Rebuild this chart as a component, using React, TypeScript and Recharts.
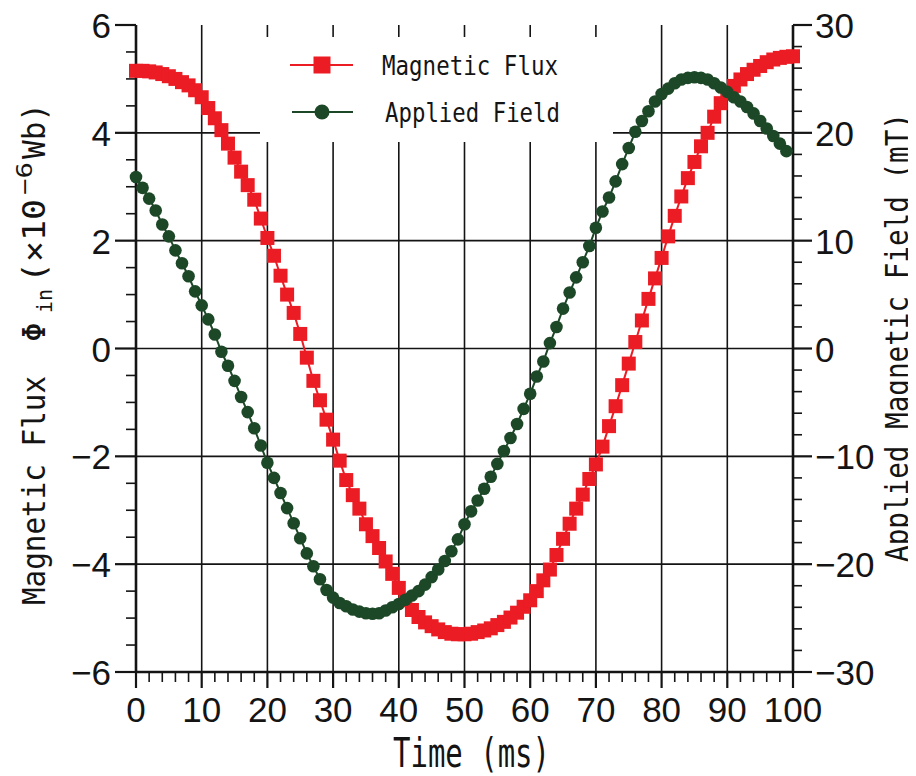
import React from 'react';
import { ComposedChart, Line, XAxis, YAxis, ReferenceLine, Legend } from 'recharts';

const timeMs = [
  0, 1, 2, 3, 4, 5, 6, 7, 8, 9, 10, 11, 12, 13, 14, 15, 16, 17, 18, 19,
  20, 21, 22, 23, 24, 25, 26, 27, 28, 29, 30, 31, 32, 33, 34, 35, 36, 37, 38, 39,
  40, 41, 42, 43, 44, 45, 46, 47, 48, 49, 50, 51, 52, 53, 54, 55, 56, 57, 58, 59,
  60, 61, 62, 63, 64, 65, 66, 67, 68, 69, 70, 71, 72, 73, 74, 75, 76, 77, 78, 79,
  80, 81, 82, 83, 84, 85, 86, 87, 88, 89, 90, 91, 92, 93, 94, 95, 96, 97, 98, 99, 100,
];

// Magnetic flux (x10^-6 Wb), left axis
const magneticFlux = [
  5.15, 5.15, 5.14, 5.12, 5.09, 5.05, 5.0, 4.94, 4.88, 4.79,
  4.66, 4.46, 4.27, 4.05, 3.8, 3.54, 3.28, 3.03, 2.76, 2.41,
  2.05, 1.72, 1.35, 1.0, 0.66, 0.27, -0.17, -0.6, -0.96, -1.32,
  -1.69, -2.08, -2.44, -2.72, -2.97, -3.26, -3.48, -3.7, -3.95, -4.18,
  -4.44, -4.67, -4.85, -4.98, -5.08, -5.15, -5.21, -5.26, -5.29, -5.3,
  -5.3, -5.29, -5.26, -5.23, -5.19, -5.13, -5.07, -4.99, -4.9, -4.79,
  -4.67, -4.5, -4.3, -4.1, -3.83, -3.53, -3.25, -2.97, -2.71, -2.42,
  -2.15, -1.82, -1.44, -1.07, -0.68, -0.28, 0.12, 0.52, 0.92, 1.3,
  1.68, 2.08, 2.46, 2.82, 3.16, 3.46, 3.75, 4.0, 4.3, 4.55,
  4.73, 4.87, 4.99, 5.09, 5.17, 5.24, 5.31, 5.36, 5.39, 5.41, 5.42,
];

// Applied magnetic field (mT), right axis
const appliedField = [
  15.9, 14.9, 13.9, 12.8, 11.5, 10.4, 9.1, 7.9, 6.7, 5.3,
  4.0, 2.7, 1.3, -0.3, -1.6, -3.0, -4.5, -5.9, -7.4, -9.0,
  -10.6, -12.0, -13.4, -14.8, -16.2, -17.6, -19.0, -20.2, -21.4, -22.4,
  -23.1, -23.6, -23.9, -24.2, -24.4, -24.55, -24.6, -24.55, -24.3, -24.0,
  -23.7, -23.3, -22.9, -22.5, -21.9, -21.2, -20.5, -19.7, -18.8, -17.7,
  -16.3, -15.1, -14.1, -13.0, -11.9, -10.7, -9.5, -8.3, -7.0, -5.6,
  -4.2, -2.6, -1.2, 0.5, 2.0, 3.7, 5.2, 6.6, 8.0, 9.5,
  11.2, 12.7, 14.0, 15.5, 17.1, 18.6, 20.1, 21.1, 22.0, 22.9,
  23.6, 24.1, 24.6, 24.95, 25.1, 25.15, 25.1, 24.95, 24.6, 24.2,
  23.8, 23.3, 22.9, 22.4, 21.8, 21.1, 20.4, 19.7, 19.0, 18.3,
];

const seriesNames = ['Magnetic Flux', 'Applied Field'];

const xMajorTicks = [0, 10, 20, 30, 40, 50, 60, 70, 80, 90, 100];
const xMinorTicks = [
  0, 2, 4, 6, 8, 10, 12, 14, 16, 18, 20, 22, 24, 26, 28, 30, 32, 34, 36, 38, 40,
  42, 44, 46, 48, 50, 52, 54, 56, 58, 60, 62, 64, 66, 68, 70, 72, 74, 76, 78, 80,
  82, 84, 86, 88, 90, 92, 94, 96, 98, 100,
];
const leftTicks = [
  -6, -5.5, -5, -4.5, -4, -3.5, -3, -2.5, -2, -1.5, -1, -0.5, 0,
  0.5, 1, 1.5, 2, 2.5, 3, 3.5, 4, 4.5, 5, 5.5, 6,
];
const rightTicks = [
  -30, -28, -26, -24, -22, -20, -18, -16, -14, -12, -10, -8, -6, -4, -2, 0,
  2, 4, 6, 8, 10, 12, 14, 16, 18, 20, 22, 24, 26, 28, 30,
];
const gridX = [10, 20, 30, 40, 50, 60, 70, 80, 90];
const gridY = [-4, -2, 0, 2, 4];

const rows = timeMs.map((t, i) => ({
  t,
  flux: i < magneticFlux.length ? magneticFlux[i] : null,
  field: i < appliedField.length ? appliedField[i] : null,
}));

const RED = '#ec1c24';
const GREEN = '#1d4828';
const INK = '#141414';
const NUM_FONT = '"Liberation Sans", Arial, sans-serif';
const MONO_FONT = '"DejaVu Sans Mono", "Liberation Mono", monospace';

const fmt = (v: number) => (v < 0 ? '\u2212' + Math.abs(v) : String(v));
const isMult = (v: number, m: number) => Math.abs(v / m - Math.round(v / m)) < 1e-9;

const BottomTick = (props: any) => {
  const { x, y, payload } = props;
  const v = payload.value;
  const major = isMult(v, 10);
  return (
    <g>
      <line x1={x} x2={x} y1={y} y2={y + (major ? 16 : 10)} stroke={INK} strokeWidth={major ? 2.2 : 1.6} />
      {major && (
        <text x={x} y={y + 50} textAnchor="middle" fontFamily={NUM_FONT} fontSize={35} fill={INK}>
          {fmt(v)}
        </text>
      )}
    </g>
  );
};

const TopTick = (props: any) => {
  const { x, y } = props;
  return <line x1={x} x2={x} y1={y} y2={y + 10} stroke={INK} strokeWidth={2} />;
};

const LeftTick = (props: any) => {
  const { x, y, payload } = props;
  const v = payload.value;
  const major = isMult(v, 2);
  return (
    <g>
      <line x1={x - (major ? 21 : 10)} x2={x} y1={y} y2={y} stroke={INK} strokeWidth={major ? 2.2 : 1.6} />
      {major && (
        <text x={x - 25} y={y + 13} textAnchor="end" fontFamily={NUM_FONT} fontSize={35} fill={INK}>
          {fmt(v)}
        </text>
      )}
    </g>
  );
};

const RightTick = (props: any) => {
  const { x, y, payload } = props;
  const v = payload.value;
  const major = isMult(v, 10);
  return (
    <g>
      <line x1={x} x2={x + (major ? 19 : 9)} y1={y} y2={y} stroke={INK} strokeWidth={major ? 2.2 : 1.6} />
      {major && (
        <text x={x + 22} y={y + 13} textAnchor="start" fontFamily={NUM_FONT} fontSize={35} fill={INK}>
          {fmt(v)}
        </text>
      )}
    </g>
  );
};

const XTitle = () => (
  <text
    x={393}
    y={767}
    fontFamily={MONO_FONT}
    fontSize={40}
    fill={INK}
    textLength={157}
    lengthAdjust="spacingAndGlyphs"
  >
    Time (ms)
  </text>
);

const LeftTitle = () => (
  <g transform="translate(45,605) rotate(-90)" fontFamily={MONO_FONT} fill={INK}>
    <text x={0} y={0} fontSize={32} textLength={229} lengthAdjust="spacingAndGlyphs">
      Magnetic Flux
    </text>
    <text x={273} y={0} fontSize={32} textAnchor="middle">
      Φ
    </text>
    <text x={292} y={7} fontSize={22} textLength={24} lengthAdjust="spacingAndGlyphs">
      in
    </text>
    <text x={322} y={0} fontSize={32} textLength={84} lengthAdjust="spacingAndGlyphs">
      (×10
    </text>
    <text x={410} y={-13} fontSize={22} textLength={33} lengthAdjust="spacingAndGlyphs">
      −6
    </text>
    <text x={446} y={0} fontSize={32} textLength={56} lengthAdjust="spacingAndGlyphs">
      Wb)
    </text>
  </g>
);

const RightTitle = () => (
  <g transform="translate(908,562) rotate(-90)" fontFamily={MONO_FONT} fill={INK}>
    <text x={0} y={0} fontSize={32} textLength={449} lengthAdjust="spacingAndGlyphs">
      Applied Magnetic Field (mT)
    </text>
  </g>
);

const LegendBox = () => (
  <div style={{ width: 353, height: 105, background: '#ffffff' }}>
    <svg width={353} height={105}>
      <line x1={30} x2={93} y1={28} y2={28} stroke={RED} strokeWidth={2} />
      <rect x={53.5} y={19.5} width={17} height={17} fill={RED} />
      <text x={122} y={38} fontFamily={MONO_FONT} fontSize={27} fill={INK} textLength={176} lengthAdjust="spacingAndGlyphs">
        {seriesNames[0]}
      </text>
      <line x1={32} x2={93} y1={75} y2={75} stroke={GREEN} strokeWidth={2} />
      <circle cx={62} cy={75} r={7.5} fill={GREEN} />
      <text x={125} y={85} fontFamily={MONO_FONT} fontSize={27} fill={INK} textLength={175} lengthAdjust="spacingAndGlyphs">
        {seriesNames[1]}
      </text>
    </svg>
  </div>
);

const SquareDot = (props: any) => {
  const { cx, cy, index } = props;
  if (cx == null || cy == null || Number.isNaN(cy)) return <g key={'s' + index} />;
  return <rect key={'s' + index} x={cx - 7} y={cy - 7} width={14} height={14} fill={RED} />;
};

const CircleDot = (props: any) => {
  const { cx, cy, index } = props;
  if (cx == null || cy == null || Number.isNaN(cy)) return <g key={'c' + index} />;
  return <circle key={'c' + index} cx={cx} cy={cy} r={6.3} fill={GREEN} />;
};

export default function App() {
  return (
    <div style={{ width: 916, height: 776, margin: '-8px 0 0 -8px', background: '#fff' }}>
      <ComposedChart
        width={916}
        height={776}
        data={rows}
        margin={{ top: 25, right: 63, bottom: 74, left: 76 }}
      >
        <XAxis
          xAxisId="bottom"
          dataKey="t"
          type="number"
          domain={[0, 100]}
          ticks={xMinorTicks}
          interval={0}
          height={30}
          tickSize={0}
          tickMargin={0}
          tick={<BottomTick />}
          axisLine={{ stroke: INK, strokeWidth: 2.6 }}
          tickLine={false}
          label={<XTitle />}
        />
        <XAxis
          xAxisId="top"
          orientation="top"
          dataKey="t"
          type="number"
          domain={[0, 100]}
          ticks={xMajorTicks}
          interval={0}
          height={0}
          tickSize={0}
          tickMargin={0}
          tick={<TopTick />}
          axisLine={{ stroke: INK, strokeWidth: 2.6 }}
          tickLine={false}
        />
        <YAxis
          yAxisId="left"
          type="number"
          domain={[-6, 6]}
          ticks={leftTicks}
          interval={0}
          width={60}
          tickSize={0}
          tickMargin={0}
          tick={<LeftTick />}
          axisLine={{ stroke: INK, strokeWidth: 2.6 }}
          tickLine={false}
          label={<LeftTitle />}
        />
        <YAxis
          yAxisId="right"
          orientation="right"
          type="number"
          domain={[-30, 30]}
          ticks={rightTicks}
          interval={0}
          width={60}
          tickSize={0}
          tickMargin={0}
          tick={<RightTick />}
          axisLine={{ stroke: INK, strokeWidth: 2.6 }}
          tickLine={false}
          label={<RightTitle />}
        />
        {gridX.map((v) => (
          <ReferenceLine key={'gx' + v} xAxisId="bottom" yAxisId="left" x={v} stroke={INK} strokeWidth={1.6} />
        ))}
        {gridY.map((v) => (
          <ReferenceLine key={'gy' + v} xAxisId="bottom" yAxisId="left" y={v} stroke={INK} strokeWidth={1.6} />
        ))}
        <Line
          xAxisId="bottom"
          yAxisId="left"
          dataKey="flux"
          name={seriesNames[0]}
          stroke={RED}
          strokeWidth={2}
          dot={SquareDot}
          activeDot={false}
          isAnimationActive={false}
        />
        <Line
          xAxisId="bottom"
          yAxisId="right"
          dataKey="field"
          name={seriesNames[1]}
          stroke={GREEN}
          strokeWidth={2}
          dot={CircleDot}
          activeDot={false}
          isAnimationActive={false}
        />
        <Legend
          content={<LegendBox />}
          layout="vertical"
          align="center"
          verticalAlign="middle"
          wrapperStyle={{ left: 260, top: 37, width: 353, height: 105 }}
        />
      </ComposedChart>
    </div>
  );
}
